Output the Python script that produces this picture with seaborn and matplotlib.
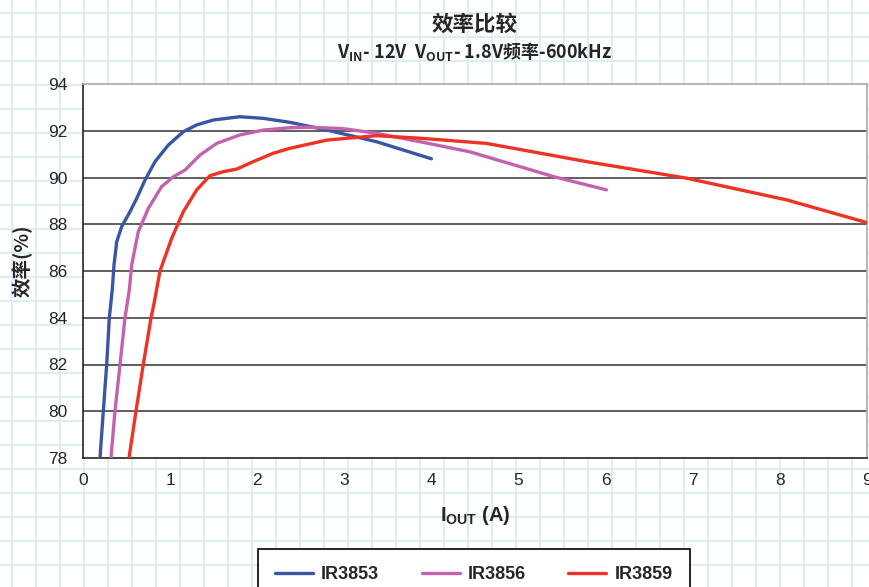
import numpy as np
import pandas as pd
import matplotlib
matplotlib.use('Agg')
import matplotlib.pyplot as plt
import seaborn as sns
from matplotlib import font_manager
from matplotlib.lines import Line2D

# Datos (I_OUT en A, eficiencia en %)
ir3853_x = [0.195, 0.233, 0.272, 0.302, 0.336, 0.356, 0.387, 0.444, 0.54, 0.617, 0.712, 0.827, 0.98,
            1.152, 1.305, 1.496, 1.80, 2.07, 2.376, 2.80, 3.37, 4.0]
ir3853_y = [78.0, 80.0, 82.0, 84.0, 85.2, 86.26, 87.25, 87.9, 88.54, 89.11, 89.89, 90.68, 91.39,
            91.96, 92.25, 92.46, 92.6, 92.53, 92.36, 92.03, 91.53, 90.8]

ir3856_x = [0.321, 0.367, 0.425, 0.482, 0.532, 0.559, 0.635, 0.75, 0.903, 1.037, 1.171, 1.343, 1.535,
            1.80, 2.07, 2.376, 2.606, 2.99, 3.37, 3.87, 4.44, 5.40, 6.01]
ir3856_y = [78.0, 80.0, 82.0, 84.0, 85.2, 86.26, 87.68, 88.68, 89.61, 90.03, 90.32, 90.96, 91.46,
            91.82, 92.03, 92.13, 92.15, 92.09, 91.89, 91.53, 91.1, 90.04, 89.47]

ir3859_x = [0.528, 0.608, 0.692, 0.781, 0.815, 0.884, 1.018, 1.152, 1.305, 1.458, 1.611, 1.765, 1.955,
            2.185, 2.376, 2.80, 3.37, 3.87, 4.63, 5.78, 6.93, 8.08, 9.0]
ir3859_y = [78.0, 80.0, 82.0, 84.0, 84.6, 86.0, 87.4, 88.54, 89.47, 90.08, 90.25, 90.36, 90.68,
            91.04, 91.25, 91.6, 91.79, 91.68, 91.46, 90.68, 89.97, 89.04, 88.07]

modelos = ['IR3853', 'IR3856', 'IR3859']
colores = ['#3A55A4', '#C462AE', '#EE3224']
x_ticks = list(range(0, 10))
y_ticks = list(range(78, 95, 2))

# Tabla larga para seaborn
df = pd.concat([
    pd.DataFrame({'I': ir3853_x, 'eff': ir3853_y, 'modelo': 'IR3853'}),
    pd.DataFrame({'I': ir3856_x, 'eff': ir3856_y, 'modelo': 'IR3856'}),
    pd.DataFrame({'I': ir3859_x, 'eff': ir3859_y, 'modelo': 'IR3859'}),
], ignore_index=True)

sns.set_style('white')

# Fuente estrecha si existe
disponibles = {f.name for f in font_manager.fontManager.ttflist}
narrow = 'Liberation Sans Narrow' if 'Liberation Sans Narrow' in disponibles else 'Liberation Sans'
cjk = 'Noto Sans CJK SC'
plt.rcParams['font.family'] = [narrow, cjk, 'DejaVu Sans']
plt.rcParams['mathtext.default'] = 'regular'

fig = plt.figure(figsize=(8.69, 5.87), dpi=100)

# Fondo cuadriculado azul claro
ax_bg = fig.add_axes([0, 0, 1, 1], zorder=-5)
ax_bg.set_xlim(0, 869)
ax_bg.set_ylim(587, 0)
for xv in np.arange(12, 869, 24):
    ax_bg.axvline(xv, color='#DCEAF7', lw=1.3)
for yv in np.arange(13, 587, 24):
    ax_bg.axhline(yv, color='#DCEAF7', lw=1.3)
ax_bg.axis('off')

ax = fig.add_axes([83 / 869, 1 - 458 / 587, 784 / 869, 374 / 587])
ax.set_facecolor('white')

sns.lineplot(data=df, x='I', y='eff', hue='modelo', palette=colores, sort=False,
             lw=2.4, legend=False, ax=ax, zorder=3)
for ln in ax.get_lines():
    ln.set_solid_joinstyle('round')
    ln.set_solid_capstyle('round')

ax.set_xlim(0, 9)
ax.set_ylim(78, 94)
ax.set_xticks(x_ticks)
ax.set_yticks(y_ticks)
ax.tick_params(axis='both', direction='out', length=5, width=1, color='#222222',
               labelsize=12.5, pad=6)
for yv in y_ticks[1:-1]:
    ax.axhline(yv, color='#333333', lw=1.1, zorder=1)

ax.spines['left'].set_color('#222222')
ax.spines['bottom'].set_color('#222222')
ax.spines['top'].set_color('#AAAAAA')
ax.spines['right'].set_color('#AAAAAA')
for s in ax.spines.values():
    s.set_linewidth(1.2)

ax.set_xlabel(r'I$_{OUT}$ (A)', fontsize=14.5, fontweight='bold')
ax.xaxis.set_label_coords(0.5, -46 / 374)
ax.set_ylabel('效率(%)', fontsize=14, fontweight='bold', family=[cjk, 'DejaVu Sans'])
ax.yaxis.set_label_coords(-50 / 784, 0.527)

# Títulos
fig.text(475 / 869, 1 - 24 / 587, '效率比较', ha='center', va='center',
         fontsize=15.5, fontweight='bold', family=cjk)
fig.text(475 / 869, 1 - 52 / 587, r'V$_{IN}$- 12V  V$_{OUT}$- 1.8V频率-600kHz', ha='center', va='center',
         fontsize=13, fontweight='bold', family=cjk)

# Leyenda inferior
handles = [Line2D([0], [0], color=c, lw=2.4) for c in colores]
leg = fig.legend(handles, modelos, ncol=3, loc='upper left', bbox_to_anchor=(258 / 869, 1 - 549 / 587),
                 frameon=True, fancybox=False, edgecolor='black', framealpha=1,
                 prop={'weight': 'bold', 'size': 13}, handlelength=2.1, handletextpad=0.45,
                 columnspacing=2.35, borderpad=0.95, borderaxespad=0)
leg.get_frame().set_linewidth(1.2)

fig.savefig('out.png', dpi=100)
